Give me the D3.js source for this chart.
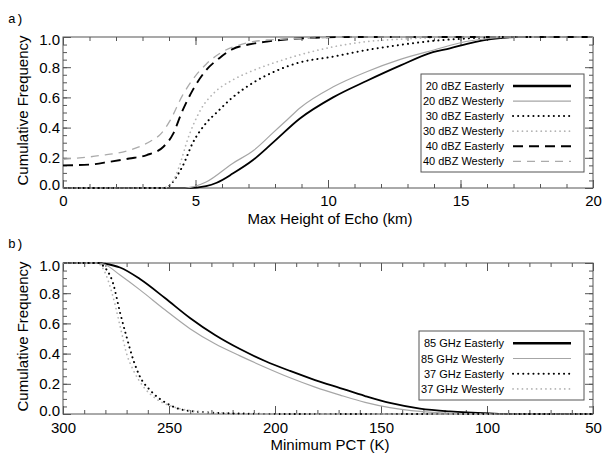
<!DOCTYPE html>
<html>
<head>
<meta charset="utf-8">
<script src="https://cdn.jsdelivr.net/npm/d3@7"></script>
<style>
  body { margin: 0; background: #fff; }
  text { font-family: "Liberation Sans", Arial, Helvetica, sans-serif; fill: #000; }
  .tag { font-family: "Liberation Mono", "Courier New", monospace; }
</style>
</head>
<body>
<svg id="chart" width="602" height="454"></svg>
<script>
// ---- Panel a: cumulative frequency of maximum echo height (km) ----
const echoTicks = [0, 5, 10, 15, 20];
const echoMinor = d3.range(0, 21, 1);
const freqTicks = [0, 0.2, 0.4, 0.6, 0.8, 1.0];
const freqMinor = d3.range(0, 1.0001, 0.05);

const dbz20East = [[0,0],[4.7,0],[5.4,0.013],[5.8,0.035],[6.42,0.097],[7.17,0.185],[7.92,0.3],[8.94,0.46],[10.19,0.6],[11.47,0.71],[12.72,0.81],[13.96,0.9],[14.6,0.925],[15.25,0.955],[15.85,0.977],[16.5,0.992],[17.1,1],[20,1]];
const dbz20West = [[0,0],[4.6,0],[5.4,0.04],[6.4,0.163],[7.2,0.25],[7.95,0.37],[8.45,0.45],[8.94,0.53],[10.2,0.67],[11.46,0.77],[12.7,0.85],[14,0.914],[15.2,0.97],[16.4,0.995],[17,1],[20,1]];
const dbz30East = [[0,0],[3.8,0],[4.05,0.02],[4.3,0.08],[4.5,0.14],[4.9,0.3],[5.4,0.43],[5.8,0.5],[6.4,0.6],[7.2,0.7],[8.1,0.78],[8.9,0.83],[10.2,0.87],[11.5,0.915],[12.7,0.947],[14,0.975],[15.2,0.99],[16.5,1],[20,1]];
const dbz30West = [[0,0],[3.8,0],[4.1,0.03],[4.4,0.15],[4.7,0.32],[5.2,0.52],[5.7,0.63],[6.4,0.715],[7.2,0.78],[8.1,0.837],[8.9,0.88],[10.2,0.935],[11.5,0.97],[12.7,0.985],[14,0.995],[15,1],[20,1]];
const dbz40East = [[0,0.15],[1,0.155],[1.77,0.174],[2.5,0.195],[3.16,0.218],[3.79,0.273],[4.16,0.36],[4.48,0.5],[4.9,0.65],[5.4,0.78],[5.9,0.86],[6.4,0.92],[7.0,0.95],[7.7,0.97],[8.9,0.99],[11,1],[20,1]];
const dbz40West = [[0,0.19],[1.4,0.215],[2.5,0.25],[3.3,0.31],[3.7,0.36],[4.05,0.45],[4.5,0.61],[4.9,0.72],[5.4,0.82],[6.0,0.9],[6.7,0.95],[7.7,0.98],[9,0.99],[11,1],[20,1]];
const echoLabels = ["20 dBZ Easterly", "20 dBZ Westerly", "30 dBZ Easterly", "30 dBZ Westerly", "40 dBZ Easterly", "40 dBZ Westerly"];

// ---- Panel b: cumulative frequency of minimum PCT (K) ----
const pctTicks = [300, 250, 200, 150, 100, 50];
const pctMinor = d3.range(50, 301, 10);

const ghz85East = [[300,1],[283,1],[280.2,0.995],[273.1,0.97],[263.7,0.894],[251.9,0.768],[240.1,0.636],[228.3,0.523],[216.5,0.43],[204.7,0.351],[192.9,0.285],[181.1,0.225],[169.3,0.172],[157.5,0.119],[145.8,0.073],[131.6,0.036],[117.5,0.017],[98.6,0.004],[88,0],[50,0]];
const ghz85West = [[300,1],[283,1],[280.2,0.99],[273.1,0.92],[263.7,0.822],[251.9,0.69],[240.1,0.565],[228.3,0.465],[216.5,0.385],[204.7,0.31],[192.9,0.24],[181.1,0.178],[169.3,0.125],[157.5,0.077],[145.8,0.042],[131.6,0.017],[117.5,0.005],[103,0],[50,0]];
const ghz37East = [[300,1],[283,1],[281,0.98],[276.4,0.866],[273,0.667],[270,0.51],[266.8,0.357],[263.7,0.247],[259,0.159],[251,0.07],[243,0.026],[228,0.008],[212,0.002],[200,0],[50,0]];
const ghz37West = [[300,1],[284,1],[281,0.96],[276.4,0.777],[273,0.578],[270,0.4],[266.8,0.29],[262,0.18],[256,0.1],[248,0.048],[235.5,0.015],[220,0.003],[212,0],[50,0]];
const pctLabels = ["85 GHz Easterly", "85 GHz Westerly", "37 GHz Easterly", "37 GHz Westerly"];

// line styles: easterly black, westerly grey
const styles = {
  solidBlack:  { stroke: "#000",    width: 1.8, dash: null,      cap: "butt" },
  solidGrey:   { stroke: "#a6a6a6", width: 1.2, dash: null,      cap: "butt" },
  dotBlack:    { stroke: "#000",    width: 2.0, dash: "0.1,5",   cap: "round" },
  dotGrey:     { stroke: "#b4b4b4", width: 1.7, dash: "0.1,4.6", cap: "round" },
  dashBlack:   { stroke: "#000",    width: 1.9, dash: "10,6",    cap: "butt" },
  dashGrey:    { stroke: "#ababab", width: 1.3, dash: "8,6",     cap: "butt" }
};

const svg = d3.select("#chart");

function drawPanel(cfg) {
  const { left, right, top, bottom } = cfg.box;
  const x = d3.scaleLinear().domain(cfg.xDomain).range([left, right]);
  const y = d3.scaleLinear().domain([0, 1]).range([bottom, top]);
  const g = svg.append("g");

  // frame
  g.append("rect").attr("x", left).attr("y", top)
    .attr("width", right - left).attr("height", bottom - top)
    .attr("fill", "none").attr("stroke", "#555").attr("stroke-width", 1);

  const axisStyle = sel => {
    sel.select(".domain").remove();
    sel.selectAll("line").attr("stroke", "#555").attr("stroke-width", 1);
  };
  const labelFont = s => s.selectAll("text").attr("font-size", 15)
    .style("font-family", "'Liberation Sans', Arial, sans-serif");

  // minor ticks, all four sides, pointing inward
  g.append("g").attr("transform", `translate(0,${bottom})`)
    .call(d3.axisBottom(x).tickValues(cfg.xMinor).tickSize(-4).tickFormat(""))
    .call(axisStyle);
  g.append("g").attr("transform", `translate(0,${top})`)
    .call(d3.axisTop(x).tickValues(cfg.xMinor).tickSize(-4).tickFormat(""))
    .call(axisStyle);
  g.append("g").attr("transform", `translate(${left},0)`)
    .call(d3.axisLeft(y).tickValues(freqMinor).tickSize(-4).tickFormat(""))
    .call(axisStyle);
  g.append("g").attr("transform", `translate(${right},0)`)
    .call(d3.axisRight(y).tickValues(freqMinor).tickSize(-4).tickFormat(""))
    .call(axisStyle);

  // major ticks with labels
  g.append("g").attr("transform", `translate(0,${bottom})`)
    .call(d3.axisBottom(x).tickValues(cfg.xTicks).tickSize(-8).tickPadding(cfg.xPad).tickFormat(d3.format("d")))
    .call(axisStyle).call(labelFont);
  g.append("g").attr("transform", `translate(0,${top})`)
    .call(d3.axisTop(x).tickValues(cfg.xTicks).tickSize(-8).tickFormat(""))
    .call(axisStyle);
  g.append("g").attr("transform", `translate(${left},0)`)
    .call(d3.axisLeft(y).tickValues(freqTicks).tickSize(-8).tickPadding(3).tickFormat(d3.format(".1f")))
    .call(axisStyle).call(labelFont)
    // end labels sit slightly inside the frame
    .call(s => s.selectAll(".tick text").attr("dy", d => d === 1 ? "0.52em" : d === 0 ? "0.1em" : "0.32em"));
  g.append("g").attr("transform", `translate(${right},0)`)
    .call(d3.axisRight(y).tickValues(freqTicks).tickSize(-8).tickFormat(""))
    .call(axisStyle);

  // axis titles
  g.append("text").attr("x", (left + right) / 2 + 2).attr("y", cfg.xTitleY)
    .attr("text-anchor", "middle").attr("font-size", 15).text(cfg.xTitle);
  g.append("text")
    .attr("transform", `translate(28,${(top + bottom) / 2 - 2}) rotate(-90)`)
    .attr("text-anchor", "middle").attr("font-size", 15).text("Cumulative Frequency");
  g.append("text").attr("class", "tag").attr("x", 8).attr("y", cfg.tagY)
    .attr("font-size", 13).text(cfg.tag);

  // curves
  const line = d3.line().x(d => x(d[0])).y(d => y(d[1])).curve(d3.curveMonotoneX);
  const clip = "clip-" + cfg.tag.replace(")", "");
  svg.append("clipPath").attr("id", clip).append("rect")
    .attr("x", left).attr("y", top - 1).attr("width", right - left).attr("height", bottom - top + 2);
  const curves = g.append("g").attr("clip-path", `url(#${clip})`);
  cfg.series.forEach(s => {
    const st = styles[s.style];
    curves.append("path").datum(s.data)
      .attr("d", d => line(d.slice().sort((a, b) => x(a[0]) - x(b[0]))))
      .attr("fill", "none").attr("stroke", st.stroke).attr("stroke-width", st.width)
      .attr("stroke-dasharray", st.dash).attr("stroke-linecap", st.cap);
  });

  // legend
  const lg = cfg.legend;
  g.append("rect").attr("x", lg.x).attr("y", lg.y).attr("width", lg.w).attr("height", lg.h)
    .attr("fill", "#fff").attr("stroke", "#555").attr("stroke-width", 1);
  cfg.series.forEach((s, i) => {
    const st = styles[s.style];
    const ry = lg.firstRow + i * lg.step;
    g.append("text").attr("x", lg.textRight).attr("y", ry + 4)
      .attr("text-anchor", "end").attr("font-size", 11).text(s.label);
    g.append("line").attr("x1", lg.lineX0).attr("x2", lg.lineX1).attr("y1", ry).attr("y2", ry)
      .attr("stroke", st.stroke).attr("stroke-width", s.style === "solidBlack" ? 2.4 : st.width)
      .attr("stroke-dasharray", st.dash).attr("stroke-linecap", st.cap);
  });
}

drawPanel({
  tag: "a)", tagY: 23,
  box: { left: 63, right: 593, top: 37, bottom: 188 },
  xDomain: [0, 20], xTicks: echoTicks, xMinor: echoMinor, xPad: 7,
  xTitle: "Max Height of Echo (km)", xTitleY: 224,
  series: [
    { label: echoLabels[0], data: dbz20East, style: "solidBlack" },
    { label: echoLabels[1], data: dbz20West, style: "solidGrey" },
    { label: echoLabels[2], data: dbz30East, style: "dotBlack" },
    { label: echoLabels[3], data: dbz30West, style: "dotGrey" },
    { label: echoLabels[4], data: dbz40East, style: "dashBlack" },
    { label: echoLabels[5], data: dbz40West, style: "dashGrey" }
  ],
  legend: { x: 421, y: 74, w: 163, h: 98, firstRow: 86, step: 15.06, textRight: 504, lineX0: 513, lineX1: 571 }
});

drawPanel({
  tag: "b)", tagY: 248,
  box: { left: 63, right: 593, top: 263, bottom: 414 },
  xDomain: [300, 50], xTicks: pctTicks, xMinor: pctMinor, xPad: 8,
  xTitle: "Minimum PCT (K)", xTitleY: 450,
  series: [
    { label: pctLabels[0], data: ghz85East, style: "solidBlack" },
    { label: pctLabels[1], data: ghz85West, style: "solidGrey" },
    { label: pctLabels[2], data: ghz37East, style: "dotBlack" },
    { label: pctLabels[3], data: ghz37West, style: "dotGrey" }
  ],
  legend: { x: 419, y: 331, w: 165, h: 69, firstRow: 343.3, step: 15.2, textRight: 504, lineX0: 513, lineX1: 571 }
});
</script>
</body>
</html>
